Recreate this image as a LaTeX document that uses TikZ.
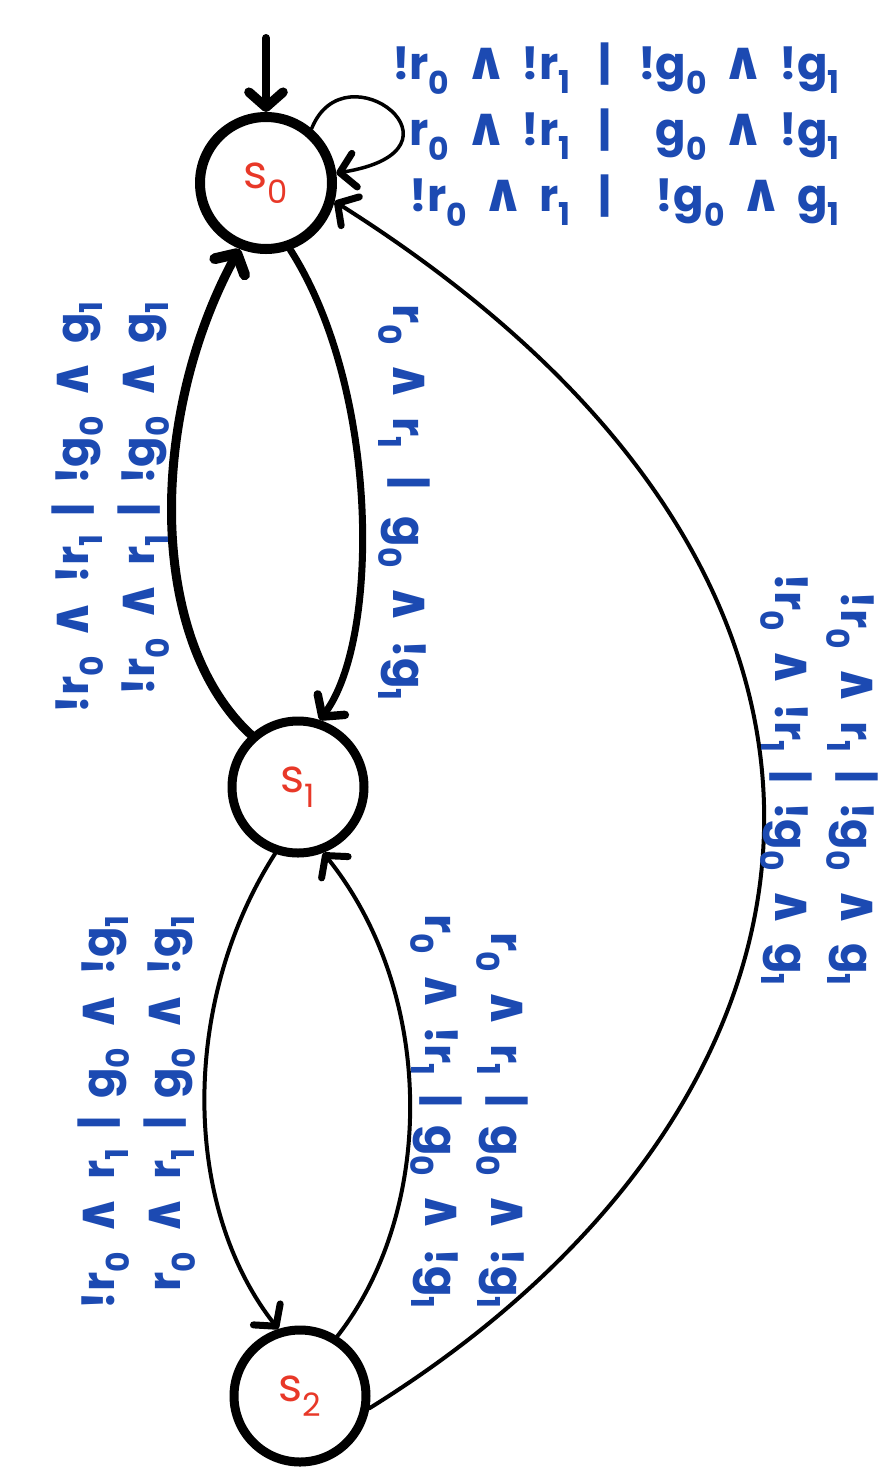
\documentclass[tikz,border=0pt]{standalone}
\usepackage{fontspec}
\setmainfont{Poppins}
\newfontfamily\symf{DejaVu Sans}
\usetikzlibrary{arrows.meta}
\definecolor{ink}{RGB}{28,74,178}
\definecolor{stred}{RGB}{232,56,40}
\newcommand\W{\hspace{.1em}{\symf\bfseries\fontsize{54}{54}\selectfont ∧}\hspace{.1em}}
\newcommand\Rr[1]{r\textsubscript{#1}}
\newcommand\Gg[1]{g\textsubscript{#1}}
\tikzset{
  state/.style={circle, draw=black, line width=10pt, minimum size=132pt, inner sep=0pt,
    font=\fontsize{46}{50}\selectfont, text=stred},
  edge/.style={line width=4pt, line cap=round, -{Straight Barb[length=15pt,width=34pt,line width=7pt,round]}},
  thickedge/.style={line width=8pt, line cap=round, -{Straight Barb[length=15pt,width=34pt,line width=0pt 1.2,round]}},
  lab/.style={text=ink, font=\fontsize{45}{66}\selectfont\bfseries, inner sep=0pt}
}
\begin{document}
\begin{tikzpicture}[x=1pt,y=-1pt]
\useasboundingbox[fill=white] (0,0) rectangle (893,1470);
\node[state] (s0) at (266,183) {s\textsubscript{0}};
\node[state, line width=9pt] (s1) at (298,787) {s\textsubscript{1}};
\node[state, line width=9pt] (s2) at (300,1396) {s\textsubscript{2}};
\coordinate (init) at (266,38);
\draw[thickedge] (init) -- (s0);
% self loop
\draw[edge, line width=3.5pt] (s0.50) .. controls (345,45) and (480,150) .. (s0.8);
% s1 -> s0
\draw[thickedge, line width=9pt] (s1.132) .. controls (148,640) and (148,418) .. (s0.248);
% s0 -> s1
\draw[thickedge, line width=7pt] (s0.290) .. controls (380,390) and (380,640) .. (s1.72);
% s1 -> s2
\draw[edge] (s1.251) .. controls (181,1000) and (181,1205) .. (s2.108);
% s2 -> s1
\draw[edge] (s2.58) .. controls (436,1210) and (436,993) .. (s1.291);
% s2 -> s0
\draw[edge] (s2.350) .. controls (850,1110) and (950,590) .. (s0.345);
% labels
\node[lab] (l00) at (616,132) {\begin{tabular}{@{}r@{\hspace{.6em}}c@{\hspace{.6em}}r@{}}
!\Rr0 \W{} !\Rr1 & | & !\Gg0 \W{} !\Gg1\\
\Rr0 \W{} !\Rr1 & | & \Gg0 \W{} !\Gg1\\
!\Rr0 \W{} \Rr1 & | & !\Gg0 \W{} \Gg1
\end{tabular}};
\node[lab, rotate=90] (l10) at (108,507) {\begin{tabular}{@{}r@{\hspace{.4em}|\hspace{.4em}}l@{}}
!\Rr0 \W{} !\Rr1 & !\Gg0 \W{} \Gg1\\
!\Rr0 \W{} \Rr1 & !\Gg0 \W{} \Gg1
\end{tabular}};
\node[lab, rotate=-90] (l01) at (404,503) {\Rr0 \W{} \Rr1 \hspace{.4em}|\hspace{.4em} \Gg0 \W{} !\Gg1};
\node[lab, rotate=-90] (l20) at (822,780) {\begin{tabular}{@{}r@{\hspace{.4em}|\hspace{.4em}}l@{}}
!\Rr0 \W{} \Rr1 & !\Gg0 \W{} \Gg1\\
!\Rr0 \W{} !\Rr1 & !\Gg0 \W{} \Gg1
\end{tabular}};
\node[lab, rotate=90] (l12) at (134,1112) {\begin{tabular}{@{}r@{\hspace{.4em}|\hspace{.4em}}l@{}}
!\Rr0 \W{} \Rr1 & \Gg0 \W{} !\Gg1\\
\Rr0 \W{} \Rr1 & \Gg0 \W{} !\Gg1
\end{tabular}};
\node[lab, rotate=-90] (l21) at (472,1112) {\begin{tabular}{@{}r@{\hspace{.4em}|\hspace{.4em}}l@{}}
\Rr0 \W{} \Rr1 & \Gg0 \W{} !\Gg1\\
\Rr0 \W{} !\Rr1 & \Gg0 \W{} !\Gg1
\end{tabular}};
\end{tikzpicture}
\end{document}
